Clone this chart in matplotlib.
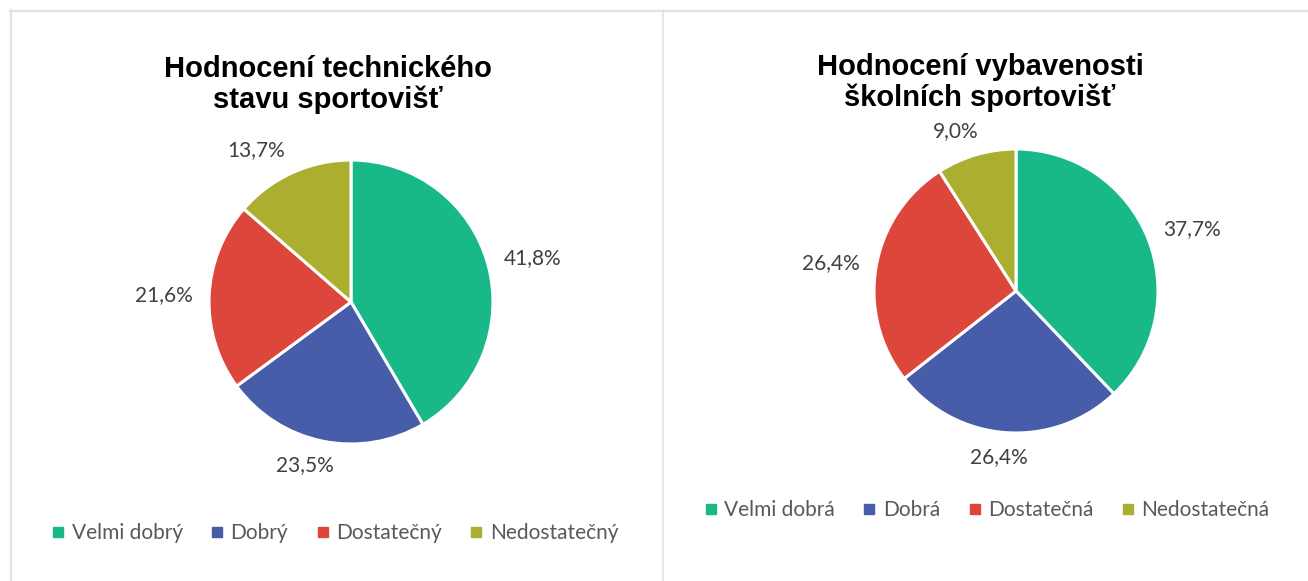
import numpy as np
import matplotlib
matplotlib.use("Agg")
import matplotlib.pyplot as plt
from matplotlib.lines import Line2D

# ---- data ----
title_left = ["Hodnocení technického", "stavu sportovišť"]
cats_left = ["Velmi dobrý", "Dobrý", "Dostatečný", "Nedostatečný"]
vals_left = [41.8, 23.5, 21.6, 13.7]

title_right = ["Hodnocení vybavenosti", "školních sportovišť"]
cats_right = ["Velmi dobrá", "Dobrá", "Dostatečná", "Nedostatečná"]
vals_right = [37.7, 26.4, 26.4, 9.0]

colors = ["#18B888", "#475DAA", "#DD473B", "#ABAE2F"]

W, H = 1308, 581
fig = plt.figure(figsize=(W / 100, H / 100), dpi=100)
ax = fig.add_axes([0, 0, 1, 1])
ax.set_xlim(0, W)
ax.set_ylim(0, H)
ax.axis("off")

LABEL_FONT = ["Lato", "DejaVu Sans"]
TITLE_FONT = ["Liberation Sans", "DejaVu Sans"]
R = 142
renderer = fig.canvas.get_renderer()


def fmt(v):
    return f"{v:.1f}".replace(".", ",") + "%"


def draw_pie(vals, center, title, title_x, baselines):
    wedges, _ = ax.pie(vals, colors=colors, startangle=90, counterclock=False,
                       center=center, radius=R, normalize=True,
                       wedgeprops=dict(edgecolor="white", linewidth=2.2))
    for w, v in zip(wedges, vals):
        theta = np.deg2rad((w.theta1 + w.theta2) / 2)
        ux, uy = np.cos(theta), np.sin(theta)
        t = ax.text(0, 0, fmt(v), fontsize=15, family=LABEL_FONT,
                    color="#404040", ha="center", va="center")
        bb = t.get_window_extent(renderer)
        a, b = bb.width / 2, 9
        gap = 16
        px = center[0] + (R + gap) * ux
        py = center[1] + (R + gap) * uy
        sx = np.clip(ux * 2.5, -1, 1)
        t.set_position((px + a * sx, py + b * uy))
    for line, yb in zip(title, baselines):
        ax.text(title_x, H - yb, line, fontsize=21, fontweight="bold",
                family=TITLE_FONT, color="black", ha="center", va="baseline")


draw_pie(vals_left, (351, H - 302), title_left, 328, [77, 108])
draw_pie(vals_right, (1016, H - 291), title_right, 980, [75, 106])

ax.set_xlim(0, W)
ax.set_ylim(0, H)
ax.set_aspect("auto")


def legend(cats, cx, cy):
    handles = [Line2D([], [], marker="s", linestyle="none", markersize=6.5,
                      markerfacecolor=c, markeredgecolor=c) for c in colors]
    fig.legend(handles, cats, loc="center", bbox_to_anchor=(cx / W, 1 - cy / H),
               ncol=4, frameon=False, handlelength=0.6, handletextpad=0.35,
               columnspacing=1.35, prop=dict(family=LABEL_FONT, size=15),
               labelcolor="#595959", borderaxespad=0, borderpad=0)


legend(cats_left, 335, 533)
legend(cats_right, 987, 510)

# frame lines
gray = "#E3E3E3"
ax.add_line(Line2D([10, W], [H - 10.5, H - 10.5], color=gray, lw=1.6))
ax.add_line(Line2D([10.5, 10.5], [0, H - 10], color=gray, lw=1.6))
ax.add_line(Line2D([663, 663], [0, H - 10], color=gray, lw=1.2))

fig.savefig("out.png", dpi=100, facecolor="white")
